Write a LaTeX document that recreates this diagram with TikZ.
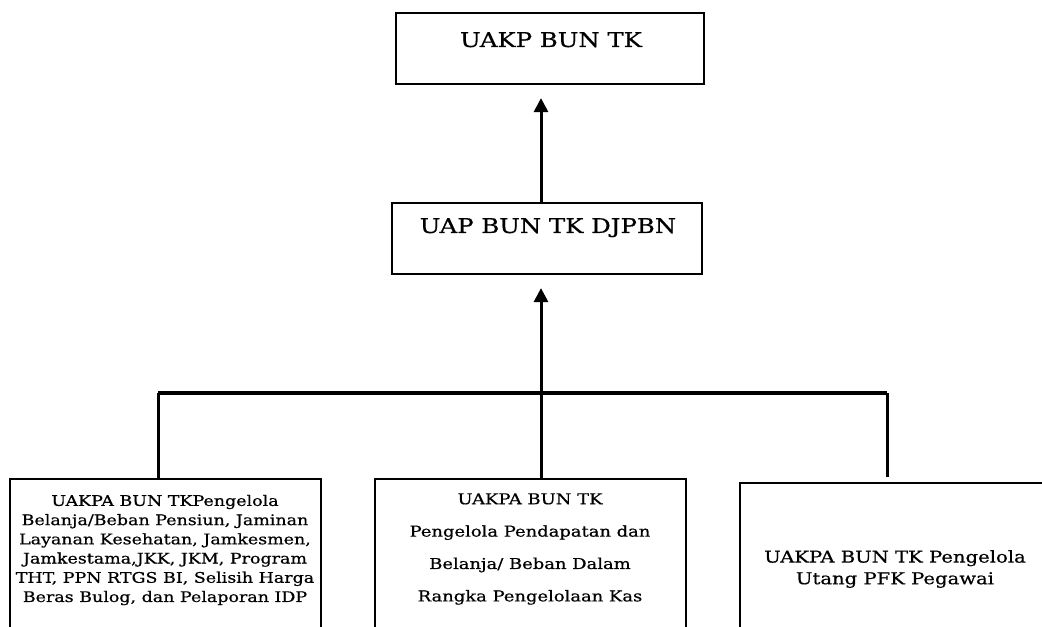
\documentclass[tikz,border=0pt]{standalone}
\usepackage{fontspec}
\setmainfont{DejaVu Serif}[FakeStretch=1.2,FakeBold=0.6]
\usetikzlibrary{arrows.meta}
\begin{document}
\begin{tikzpicture}[x=1bp,y=-1bp,
  box/.style={draw, line width=2.2bp, inner sep=0pt},
  txt/.style={inner sep=0pt, align=center},
  link/.style={line width=3bp},
  arr/.style={line width=3bp, -{Triangle[length=14bp,width=14bp]}, shorten >=13bp}]
\clip (0,0) rectangle (1042,627);
\fill[white] (0,0) rectangle (1042,627);
% boxes
\node[box, minimum width=308bp, minimum height=71bp] (top) at (550,48.5) {};
\node[box, minimum width=310bp, minimum height=71bp] (uap) at (547,238.5) {};
\node[box, minimum width=311bp, minimum height=171bp] (lbox) at (165.5,564.5) {};
\node[box, minimum width=311bp, minimum height=171bp] (mbox) at (530.5,564.5) {};
\node[box, minimum width=330bp, minimum height=167bp] (rbox) at (905,566.5) {};
% texts
\node[txt, anchor=base, font=\fontsize{20.4}{24}\selectfont] (toptxt) at (551,47) {UAKP BUN TK};
\node[txt, anchor=base, font=\fontsize{20.4}{24}\selectfont] (uaptxt) at (548,233) {UAP BUN TK DJPBN};
\node[txt, font=\fontsize{14.6}{19.3}\selectfont] (ltxt) at (165,550)
  {UAKPA BUN TKPengelola\\Belanja/Beban Pensiun, Jaminan\\Layanan Kesehatan, Jamkesmen,\\Jamkestama,JKK, JKM, Program\\THT, PPN RTGS BI, Selisih Harga\\Beras Bulog, dan Pelaporan IDP};
\node[txt, font=\fontsize{15}{32.5}\selectfont] (mtxt) at (530,549)
  {UAKPA BUN TK\\Pengelola Pendapatan dan\\Belanja/ Beban Dalam\\Rangka Pengelolaan Kas};
\node[txt, font=\fontsize{16.4}{21.7}\selectfont] (rtxt) at (895,569)
  {UAKPA BUN TK Pengelola\\Utang PFK Pegawai};
% connectors
\coordinate (spine) at (541,393);
\coordinate (hl) at (158,393);
\coordinate (hr) at (887,393);
\draw[arr] (uap.north -| spine) -- (top.south -| spine);
\draw[arr] (spine) -- (uap.south -| spine);
\draw[line width=3.5bp] (hl) -- (hr);
\draw[link] (hl) -- (lbox.north -| hl);
\draw[link] (spine) -- (mbox.north -| spine);
\draw[link, shorten >=5bp] (hr) -- (rbox.north -| hr);
\end{tikzpicture}
\end{document}
